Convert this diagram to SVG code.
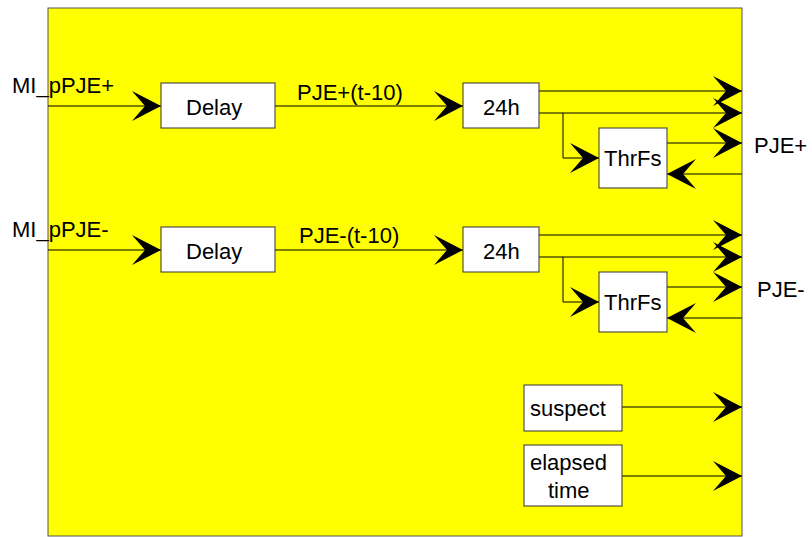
<svg xmlns="http://www.w3.org/2000/svg" width="812" height="537" viewBox="0 0 812 537">
<defs>
<style>
.box{fill:#fff;stroke:#333;stroke-width:1}
.ln{fill:none;stroke:#000;stroke-width:1}
text{font-family:"Liberation Sans",Arial,sans-serif;font-size:22px;fill:#000}
</style>
<marker id="ah" viewBox="-30 -16 31 32" refX="0" refY="0" markerWidth="31" markerHeight="32" markerUnits="userSpaceOnUse" orient="auto">
<path d="M0,0 L-29,-15 L-16,0 L-29,15 Z" fill="#000"/>
</marker>
</defs>
<rect width="812" height="537" fill="#fff"/>
<rect id="frame" x="48" y="8" width="694" height="528" fill="#ffff00" stroke="#555" stroke-width="1"/>

<g id="connectors" class="ln">
<!-- row 1 -->
<path d="M48,106 H161" marker-end="url(#ah)"/>
<path d="M275,106 H463" marker-end="url(#ah)"/>
<path d="M539,91 H742" marker-end="url(#ah)"/>
<path d="M539,113 H742" marker-end="url(#ah)"/>
<path d="M563,113 V158 H599" marker-end="url(#ah)"/>
<path d="M667,143 H742" marker-end="url(#ah)"/>
<path d="M742,174 H667" marker-end="url(#ah)"/>
<!-- row 2 -->
<path d="M48,250 H161" marker-end="url(#ah)"/>
<path d="M275,250 H463" marker-end="url(#ah)"/>
<path d="M539,235 H742" marker-end="url(#ah)"/>
<path d="M539,257 H742" marker-end="url(#ah)"/>
<path d="M563,257 V302 H599" marker-end="url(#ah)"/>
<path d="M667,287 H742" marker-end="url(#ah)"/>
<path d="M742,318 H667" marker-end="url(#ah)"/>
<!-- bottom -->
<path d="M622,407 H742" marker-end="url(#ah)"/>
<path d="M622,476 H742" marker-end="url(#ah)"/>
</g>

<g id="labels">
<text x="12" y="93">MI_pPJE+</text>
<text x="12" y="237">MI_pPJE-</text>
<text x="297" y="100">PJE+(t-10)</text>
<text x="299" y="243">PJE-(t-10)</text>
<text x="754" y="153">PJE+</text>
<text x="757" y="297">PJE-</text>
</g>

<g id="delay1"><rect class="box" x="161" y="83" width="114" height="45"/><text x="186" y="115">Delay</text></g>
<g id="h24_1"><rect class="box" x="463" y="83" width="76" height="45"/><text x="483" y="115">24h</text></g>
<g id="thrfs1"><rect class="box" x="599" y="128" width="68" height="60"/><text x="604" y="166">ThrFs</text></g>

<g id="delay2"><rect class="box" x="161" y="227" width="114" height="45"/><text x="186" y="259">Delay</text></g>
<g id="h24_2"><rect class="box" x="463" y="227" width="76" height="45"/><text x="483" y="259">24h</text></g>
<g id="thrfs2"><rect class="box" x="599" y="272" width="68" height="60"/><text x="604" y="310">ThrFs</text></g>

<g id="suspect"><rect class="box" x="524" y="385" width="98" height="46"/><text x="530" y="416">suspect</text></g>
<g id="elapsed"><rect class="box" x="524" y="445" width="98" height="61"/><text x="530" y="470">elapsed</text><text x="548" y="498">time</text></g>
</svg>
